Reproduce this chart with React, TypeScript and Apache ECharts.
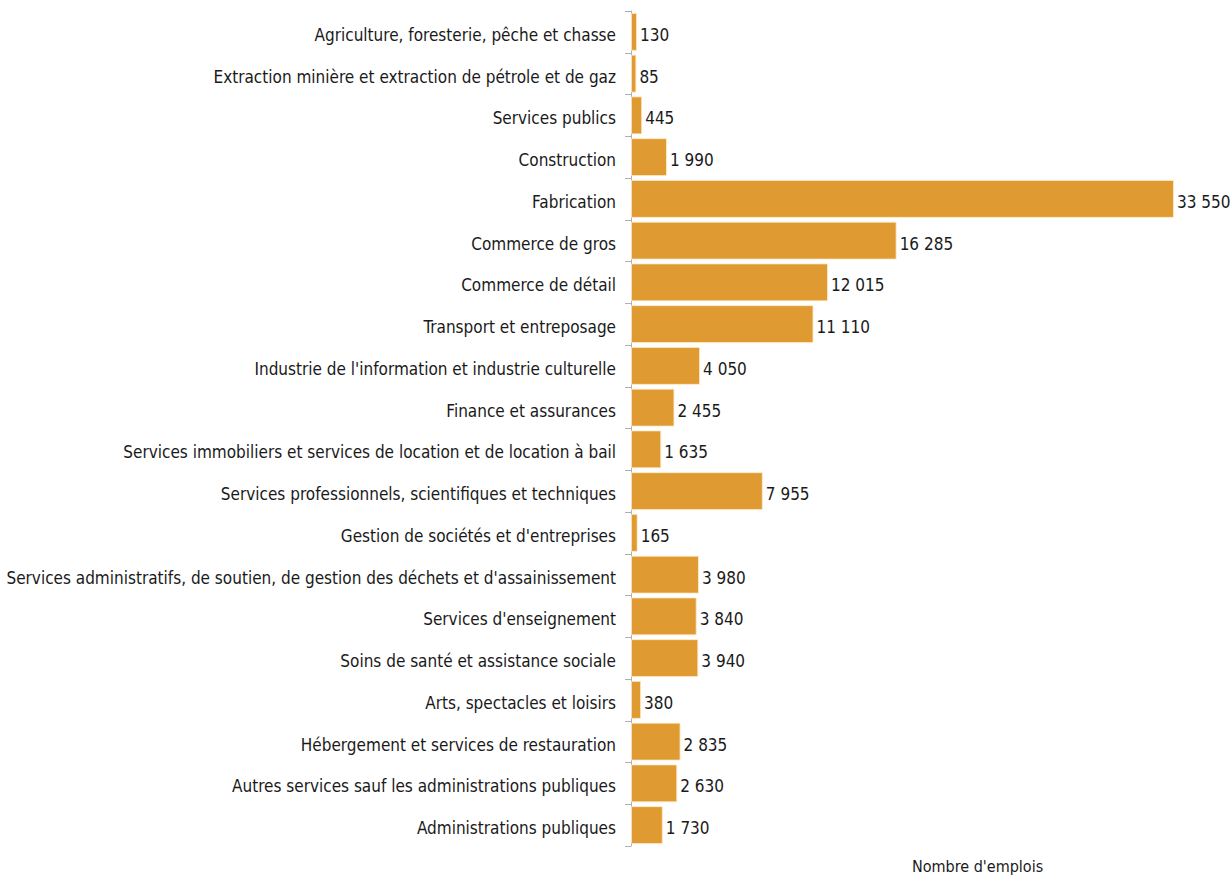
import React, { useEffect, useRef } from "react";
import * as echarts from "echarts";

const categories = [
  "Agriculture, foresterie, pêche et chasse",
  "Extraction minière et extraction de pétrole et de gaz",
  "Services publics",
  "Construction",
  "Fabrication",
  "Commerce de gros",
  "Commerce de détail",
  "Transport et entreposage",
  "Industrie de l'information et industrie culturelle",
  "Finance et assurances",
  "Services immobiliers et services de location et de location à bail",
  "Services professionnels, scientifiques et techniques",
  "Gestion de sociétés et d'entreprises",
  "Services administratifs, de soutien, de gestion des déchets et d'assainissement",
  "Services d'enseignement",
  "Soins de santé et assistance sociale",
  "Arts, spectacles et loisirs",
  "Hébergement et services de restauration",
  "Autres services sauf les administrations publiques",
  "Administrations publiques",
];

const values = [
  130, 85, 445, 1990, 33550, 16285, 12015, 11110, 4050, 2455, 1635, 7955, 165,
  3980, 3840, 3940, 380, 2835, 2630, 1730,
];

const axisTitle = "Nombre d'emplois";

// bars in the reference start a few pixels before the value zero
const BAR_BASE = 250;

const FONT = "'DejaVu Sans Condensed', 'Liberation Sans Narrow', sans-serif";

function fmt(v: number): string {
  return String(v).replace(/\B(?=(\d{3})+(?!\d))/g, " ");
}

export default function App() {
  const ref = useRef<HTMLDivElement>(null);
  useEffect(() => {
    if (!ref.current) return;
    const chart = echarts.init(ref.current, null, { renderer: "svg" });
    chart.setOption({
      animation: false,
      grid: { left: 631, right: 57, top: 11, bottom: 29, containLabel: false },
      xAxis: {
        type: "value",
        min: 0,
        max: Math.max(...values) + BAR_BASE,
        show: false,
      },
      yAxis: {
        type: "category",
        data: categories,
        inverse: true,
        axisLine: { show: true, lineStyle: { color: "#b0b0b0", width: 1 } },
        axisTick: { show: true, length: 6, lineStyle: { color: "#b0b0b0" } },
        axisLabel: {
          fontFamily: FONT,
          fontSize: 17,
          color: "#1a1a1a",
          margin: 15,
          verticalAlign: "top",
          lineHeight: 6,
        },
        splitLine: { show: false },
      },
      series: [
        {
          type: "bar",
          data: values.map((v) => ({ value: v + BAR_BASE, raw: v })),
          barCategoryGap: "9%",
          itemStyle: {
            color: "#E09A32",
            borderColor: "rgba(255,235,200,0.8)",
            borderWidth: 1,
          },
          label: {
            show: true,
            position: "right",
            distance: 3,
            offset: [0, 3],
            fontFamily: FONT,
            fontSize: 17,
            color: "#1a1a1a",
            formatter: (p: any) => fmt(p.data.raw),
          },
        },
      ],
      graphic: [
        {
          type: "text",
          left: 912,
          top: 858,
          style: {
            text: axisTitle,
            fontFamily: FONT,
            fontSize: 16,
            fill: "#1a1a1a",
          },
        },
      ],
    });
    return () => chart.dispose();
  }, []);
  return (
    <div
      ref={ref}
      style={{ position: "fixed", left: 0, top: 0, width: 1231, height: 875, background: "#fff" }}
    />
  );
}
